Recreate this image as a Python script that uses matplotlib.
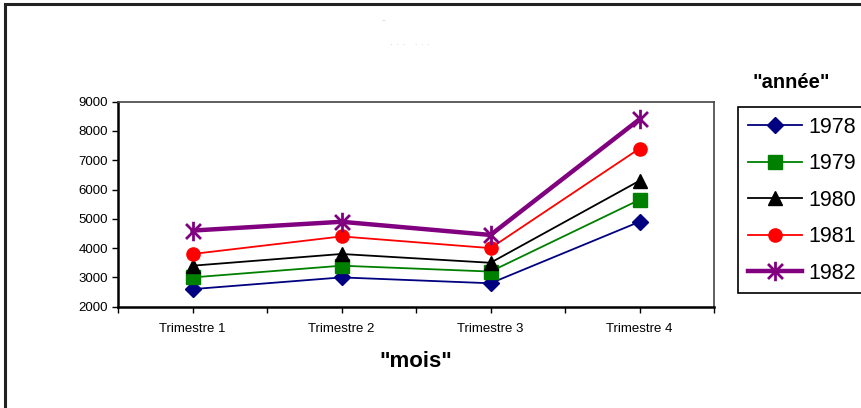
import matplotlib
matplotlib.use("Agg")
import matplotlib.pyplot as plt
from matplotlib.path import Path
from matplotlib.patches import Rectangle

plt.rcParams['font.family'] = ['Liberation Sans', 'DejaVu Sans']

categories = ["Trimestre 1", "Trimestre 2", "Trimestre 3", "Trimestre 4"]
years = ["1978", "1979", "1980", "1981", "1982"]
v1978 = [2600, 3000, 2800, 4900]
v1979 = [3000, 3400, 3200, 5650]
v1980 = [3400, 3800, 3500, 6300]
v1981 = [3800, 4400, 4000, 7400]
v1982 = [4600, 4900, 4450, 8400]
series = [v1978, v1979, v1980, v1981, v1982]
y_ticks = [2000, 3000, 4000, 5000, 6000, 7000, 8000, 9000]

# asterisk marker: x plus vertical bar
star_path = Path(
    [(-1, -1), (1, 1), (-1, 1), (1, -1), (0, -1.3), (0, 1.3)],
    [Path.MOVETO, Path.LINETO, Path.MOVETO, Path.LINETO, Path.MOVETO, Path.LINETO])

styles = [
    dict(color='#000080', marker='D', ms=8.5, lw=1.3),
    dict(color='#008000', marker='s', ms=9.5, lw=1.3),
    dict(color='#000000', marker='^', ms=10.5, lw=1.3),
    dict(color='#FF0000', marker='o', ms=9.5, lw=1.3),
    dict(color='#800080', marker=star_path, ms=14, lw=3.2, mew=2),
]

fig = plt.figure(figsize=(8.61, 4.08), dpi=100)
ax = fig.add_axes([118/861, 1-306.7/408, (714-118)/861, (306.7-101.7)/408])

x = list(range(len(categories)))
for yr, vals, st in zip(years, series, styles):
    st = dict(st)
    mew = st.pop('mew', 1)
    ax.plot(x, vals, color=st['color'], marker=st['marker'], markersize=st['ms'],
            linewidth=st['lw'], markeredgewidth=mew, markeredgecolor=st['color'],
            markerfacecolor=st['color'], label=yr)

ax.set_xlim(-0.5, 3.5)
ax.set_ylim(2000, 9000)
ax.set_yticks(y_ticks)
ax.set_yticklabels([str(t) for t in y_ticks], fontsize=9.5)
ax.set_xticks(x)
ax.set_xticklabels(categories, fontsize=9.5)
ax.set_xticks([-0.5, 0.5, 1.5, 2.5, 3.5], minor=True)
ax.tick_params(axis='x', which='both', direction='out', length=4, width=1, pad=8)
ax.tick_params(axis='y', direction='out', length=4, width=1, pad=3)

for s in ['left', 'bottom']:
    ax.spines[s].set_color('black')
    ax.spines[s].set_linewidth(1.8)
for s in ['top', 'right']:
    ax.spines[s].set_color('#444444')
    ax.spines[s].set_linewidth(1.2)

ax.set_xlabel('"mois"', fontsize=16, fontweight='bold', labelpad=11)

leg = fig.legend(loc='upper left', bbox_to_anchor=(738/861, 1-107/408),
                 fontsize=15.5, frameon=True, fancybox=False, edgecolor='black',
                 handlelength=2.5, handletextpad=0.3, labelspacing=0.72,
                 borderpad=0.45, borderaxespad=0, framealpha=1)
leg.get_frame().set_linewidth(1.2)
fig.text(791/861, 1-82/408, '"année"', fontsize=14.5, fontweight='bold',
         ha='center', va='center')

# faded title remnants
fig.text(383/861, 1-20/408, '-', fontsize=8, color='#cfcfcf', ha='center', va='center')
fig.text(410/861, 1-42/408, '. . .   . . .', fontsize=8, color='#cfcfcf', ha='center', va='center')

# figure border (top and left)
fig.patches.append(Rectangle((5/861, -0.2), 2.0, 1.2 - 4/408, transform=fig.transFigure,
                             fill=False, edgecolor='#222222', linewidth=2.2))

fig.savefig('out.png', dpi=100)
